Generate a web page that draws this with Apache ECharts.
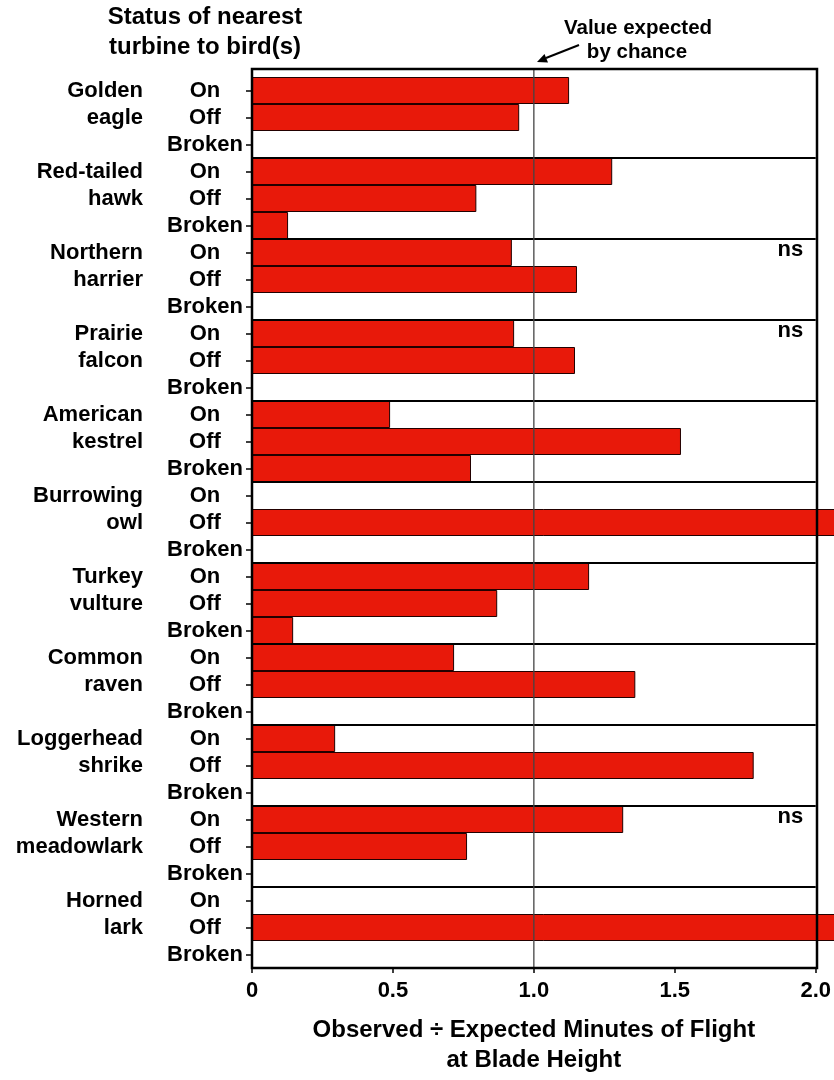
<!DOCTYPE html>
<html>
<head>
<meta charset="utf-8">
<script src="https://cdn.jsdelivr.net/npm/echarts@6/dist/echarts.min.js"></script>
<style>
html, body { margin: 0; padding: 0; background: #fff; }
#chart { width: 834px; height: 1080px; }
</style>
</head>
<body>
<div id="chart"></div>
<script>
// bird names, split over two label lines
const birdLine1 = ['Golden', 'Red-tailed', 'Northern', 'Prairie', 'American', 'Burrowing', 'Turkey', 'Common', 'Loggerhead', 'Western', 'Horned'];
const birdLine2 = ['eagle', 'hawk', 'harrier', 'falcon', 'kestrel', 'owl', 'vulture', 'raven', 'shrike', 'meadowlark', 'lark'];
const statuses = ['On', 'Off', 'Broken'];

// observed / expected ratio per turbine status (null = no bar)
const onValues = [1.125, 1.278, 0.922, 0.93, 0.49, null, 1.196, 0.717, 0.295, 1.317, null];
const offValues = [0.948, 0.796, 1.153, 1.146, 1.522, 2.3, 0.87, 1.36, 1.78, 0.763, 2.3];
const brokenValues = [null, 0.128, null, null, 0.777, null, 0.146, null, null, null, null];

// birds flagged "ns" (not significant)
const nsBirds = ['Northern', 'Prairie', 'Western'];

const xTickValues = [0, 0.5, 1.0, 1.5, 2.0];
const expectedValue = 1.0;

const red = '#E8190A';
const font = '"Liberation Sans", Arial, sans-serif';

const rows = [];
const values = [];
birdLine1.forEach((b, i) => {
  const v = [onValues[i], offValues[i], brokenValues[i]];
  statuses.forEach((s, j) => {
    rows.push(i + '|' + s);
    values.push(v[j]);
  });
});

const nsPoints = nsBirds.map(b => ({
  coord: [1.91, birdLine1.indexOf(b) + '|On']
}));

const container = document.getElementById('chart');
const myChart = echarts.init(container, null, { renderer: 'canvas', width: 834, height: 1080 });

const gridLeft = 252, gridWidth = 566, frameTop = 69, frameBottom = 968;

const option = {
  animation: false,
  textStyle: { fontFamily: font },
  grid: { left: gridLeft, width: gridWidth, top: 77, bottom: 1080 - frameBottom, containLabel: false },
  xAxis: {
    type: 'value',
    min: 0,
    max: 2,
    interval: 0.5,
    axisLine: { show: false },
    axisTick: { show: true, length: 5, lineStyle: { color: '#000', width: 1.5 } },
    splitLine: { show: false },
    axisLabel: {
      margin: 12,
      color: '#000',
      fontSize: 22,
      fontWeight: 'bold',
      fontFamily: font,
      formatter: v => (v === 0 ? '0' : v.toFixed(1))
    },
    name: 'Observed ÷ Expected Minutes of Flight\nat Blade Height',
    nameLocation: 'middle',
    nameGap: 47,
    nameTextStyle: { color: '#000', fontSize: 24, fontWeight: 'bold', lineHeight: 30, fontFamily: font }
  },
  yAxis: [
    {
      type: 'category',
      data: rows,
      inverse: true,
      z: 10,
      axisLine: { show: false },
      axisTick: { show: true, alignWithLabel: true, interval: 0, length: 6, lineStyle: { color: '#000', width: 1.5 } },
      splitLine: {
        show: true,
        interval: idx => idx > 0 && idx % 3 === 0,
        lineStyle: { color: '#000', width: 2 }
      },
      axisLabel: {
        interval: 0,
        align: 'center',
        margin: 47,
        color: '#000',
        fontSize: 22,
        fontWeight: 'bold',
        fontFamily: font,
        formatter: v => v.split('|')[1]
      }
    },
    {
      type: 'category',
      data: rows,
      inverse: true,
      position: 'left',
      axisLine: { show: false },
      axisTick: { show: false },
      splitLine: { show: false },
      axisLabel: {
        interval: 0,
        align: 'right',
        margin: 109,
        color: '#000',
        fontSize: 22,
        fontWeight: 'bold',
        fontFamily: font,
        formatter: (v, idx) => {
          const b = +v.split('|')[0];
          const s = v.split('|')[1];
          if (s === 'On') return birdLine1[b];
          if (s === 'Off') return birdLine2[b];
          return '';
        }
      }
    }
  ],
  series: [
    {
      type: 'bar',
      data: values,
      yAxisIndex: 0,
      barCategoryGap: '0%',
      clip: false,
      itemStyle: { color: red, borderColor: '#220000', borderWidth: 1 },
      markPoint: {
        symbol: 'rect',
        symbolSize: 1,
        itemStyle: { color: 'rgba(0,0,0,0)' },
        label: {
          show: true,
          position: 'inside',
          offset: [0, -3],
          formatter: 'ns',
          color: '#000',
          fontSize: 22,
          fontWeight: 'bold',
          fontFamily: font
        },
        data: nsPoints
      }
    }
  ]
};

myChart.setOption(option);

const lineX = myChart.convertToPixel({ xAxisIndex: 0 }, expectedValue);

myChart.setOption({
  graphic: [
    {
      type: 'line', z: 50,
      shape: { x1: lineX, y1: frameTop, x2: lineX, y2: frameBottom },
      style: { stroke: '#444', lineWidth: 1.3 }
    },
    {
      type: 'rect', z: 100,
      shape: { x: gridLeft, y: frameTop, width: gridWidth - 1, height: frameBottom - frameTop },
      style: { fill: null, stroke: '#000', lineWidth: 2.5 }
    },
    {
      type: 'text', z: 100, x: 205, y: 17,
      style: { text: 'Status of nearest', align: 'center', verticalAlign: 'middle', fill: '#000', font: 'bold 24px ' + font }
    },
    {
      type: 'text', z: 100, x: 205, y: 47,
      style: { text: 'turbine to bird(s)', align: 'center', verticalAlign: 'middle', fill: '#000', font: 'bold 24px ' + font }
    },
    {
      type: 'text', z: 100, x: 638, y: 28,
      style: { text: 'Value expected', align: 'center', verticalAlign: 'middle', fill: '#000', font: 'bold 20.5px ' + font }
    },
    {
      type: 'text', z: 100, x: 637, y: 52,
      style: { text: 'by chance', align: 'center', verticalAlign: 'middle', fill: '#000', font: 'bold 20.5px ' + font }
    },
    {
      type: 'line', z: 100,
      shape: { x1: 579, y1: 45, x2: 546, y2: 58 },
      style: { stroke: '#000', lineWidth: 2 }
    },
    {
      type: 'polygon', z: 100,
      shape: { points: [[537, 62], [548, 62.5], [544.5, 54]] },
      style: { fill: '#000' }
    }
  ]
});
</script>
</body>
</html>
